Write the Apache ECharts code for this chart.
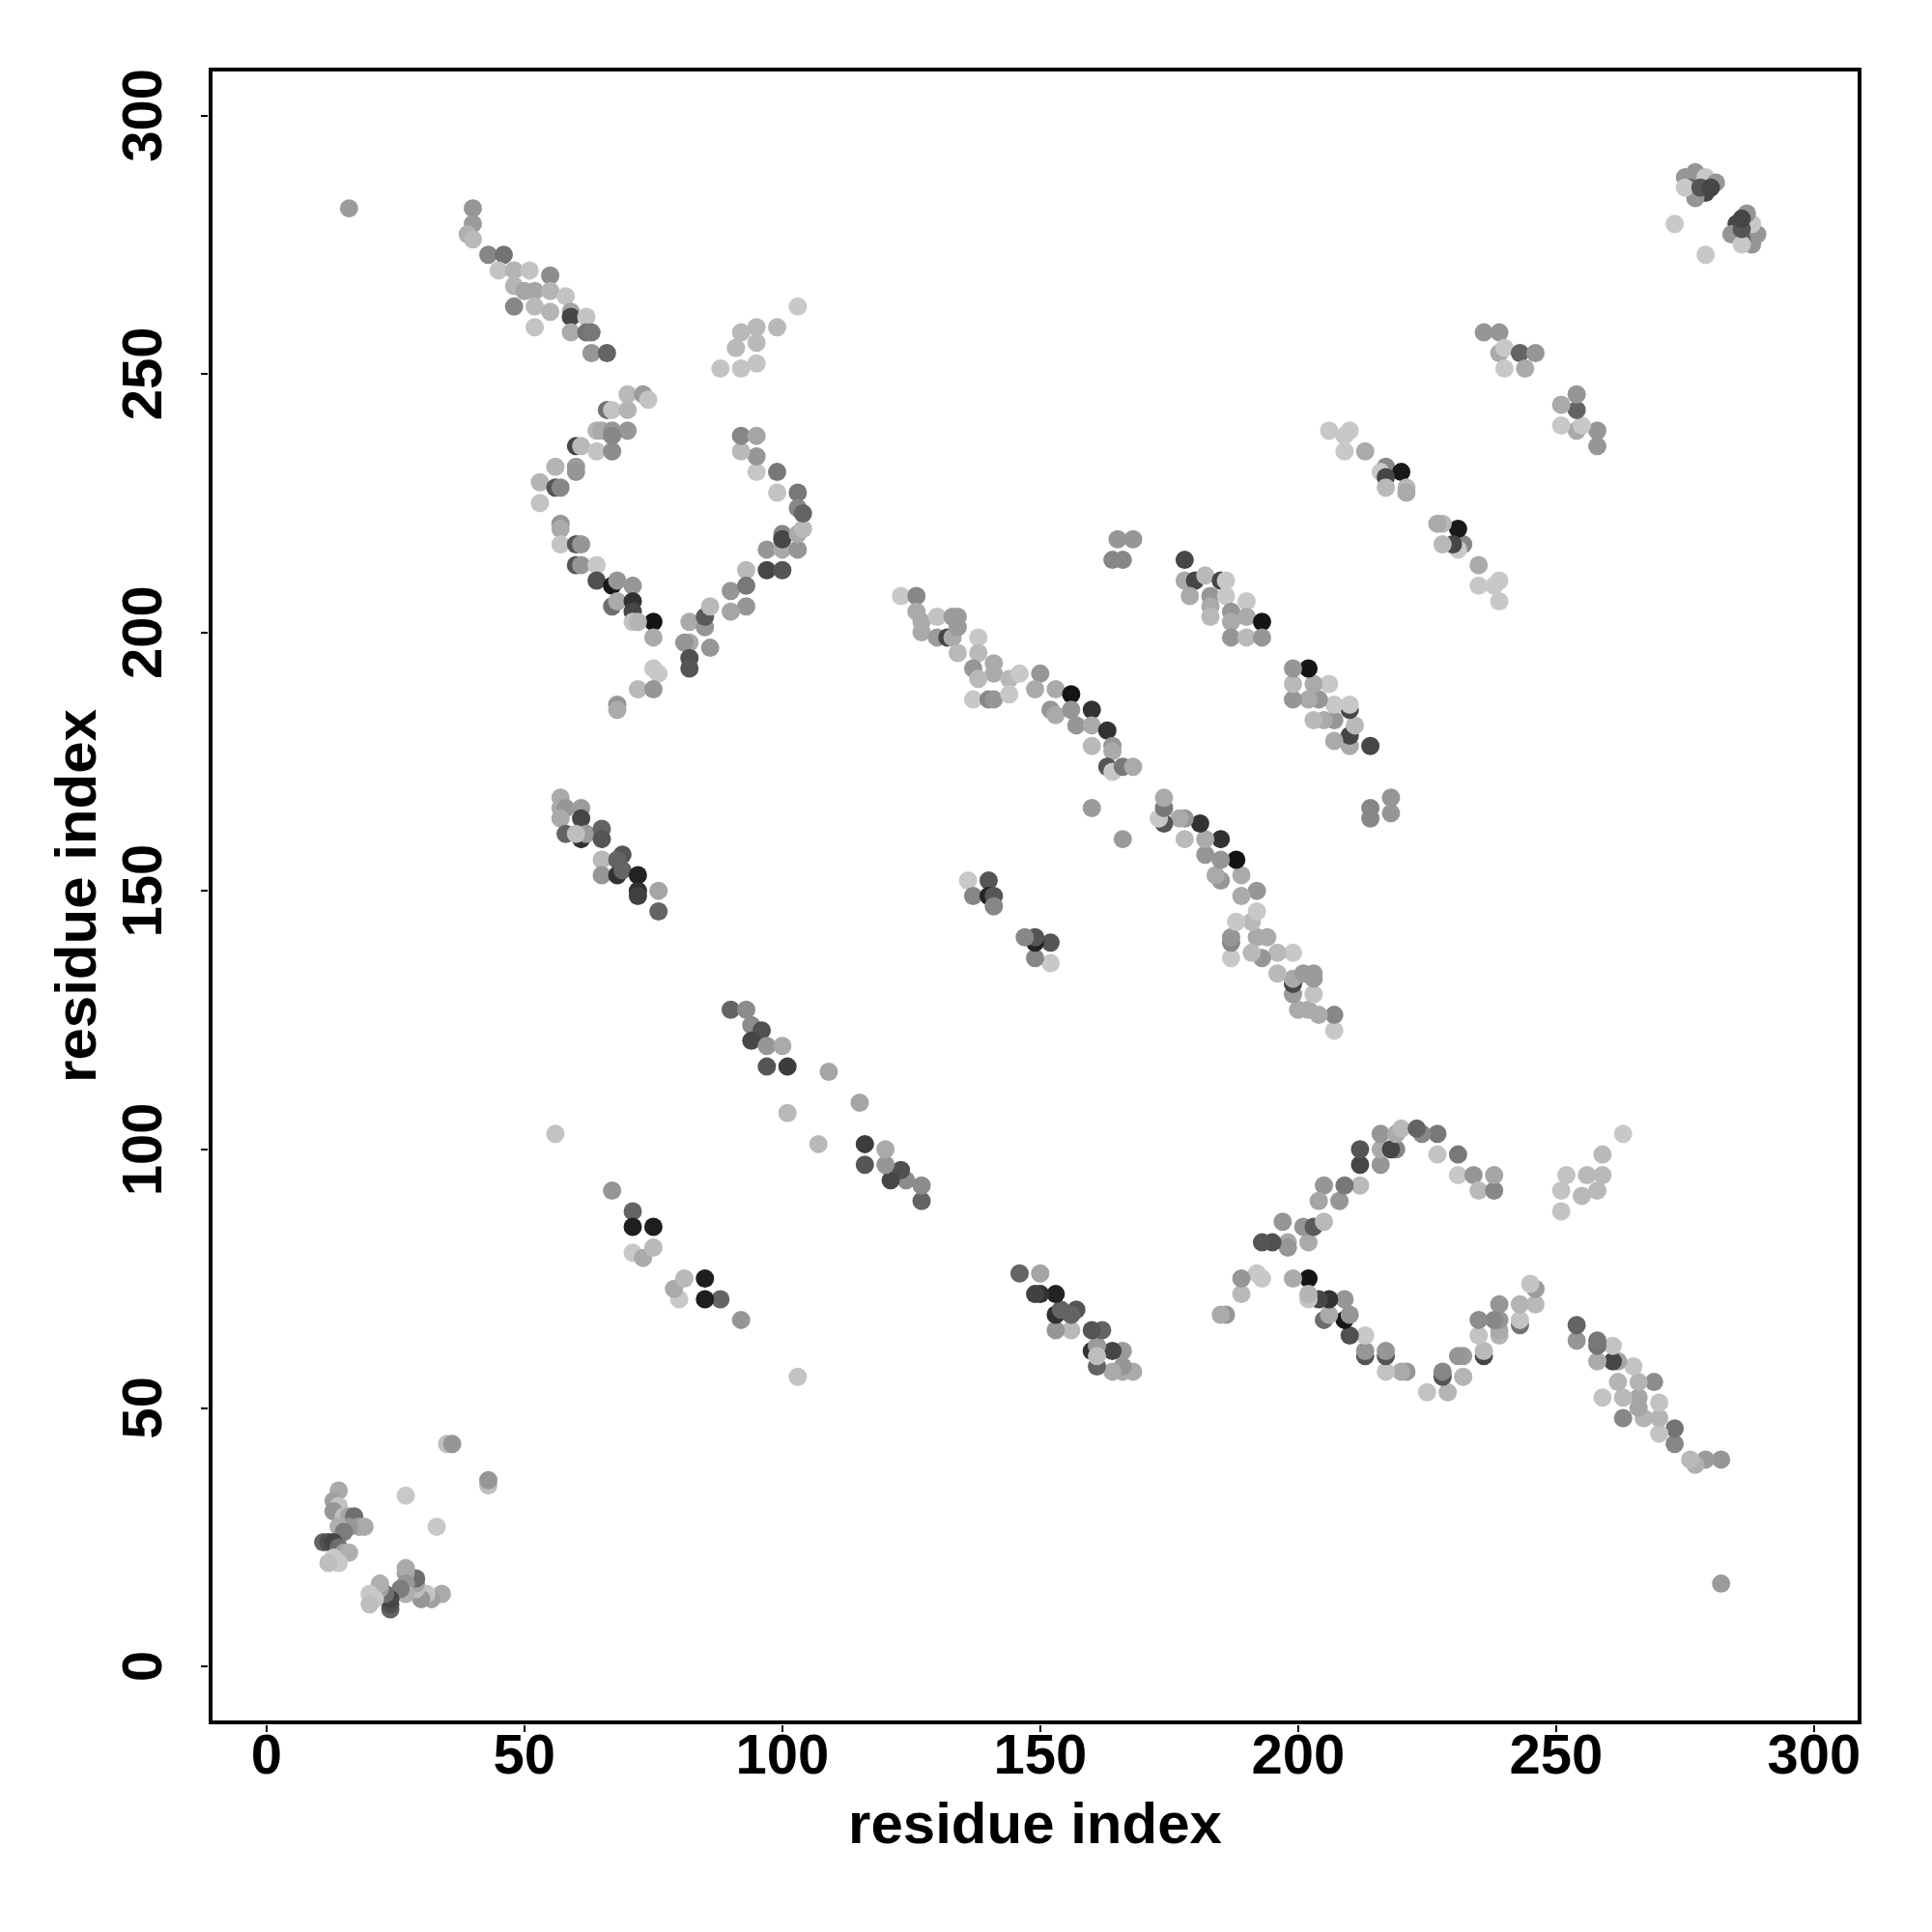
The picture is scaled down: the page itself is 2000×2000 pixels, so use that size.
<!DOCTYPE html>
<html>
<head>
<meta charset="utf-8">
<script src="https://cdn.jsdelivr.net/npm/echarts@6/dist/echarts.min.js"></script>
<style>html,body{margin:0;padding:0;background:#fff}#c{width:2000px;height:2000px}</style>
</head>
<body>
<div id="c"></div>
<script>
// Contact map (symmetric): contacts read from the upper-left half (resJ > resI); mirrored when drawn.
const resI = [14,13,14,13,15,16,17,18,19,16,14,15,11,12,13,14,15,16,13,14,12,
27,35,36,16,
40,40,39,40,43,46,45,48,51,55,48,50,52,55,58,48,52,55,59,59,62,52,59,62,63,63,66,
70,73,74,66,67,70,64,65,67,70,67,60,61,64,67,56,60,60,53,56,57,53,57,57,57,60,61,60,61,64,64,67,68,71,67,68,71,71,75,71,72,75,75,76,72,75,68,68,82,82,81,82,82,85,86,85,86,90,93,97,100,93,93,90,97,100,103,100,100,103,104,99,103,103,104,99,95,95,92,92,95,88,92,95,91,95,92,95,99,103,
57,57,58,61,57,61,58,61,62,60,65,65,65,69,68,65,68,69,72,72,72,76,76,
67,71,71,75,71,73,75,
90,93,94,96,94,97,100,97,101,109,101,
56,
123,126,126,127,130,133,134,127,130,132,133,134,134,138,138,137,141,141,138,137,140,141,144,144,146,150,149,153,156,152,153,156,157,160,160,163,160,164,164,163,164,166,168,160,165,168,164,166,
136,140,137,140,141,141,
178,178,180,182,185,186,179,183,183,186,187,190,190,193,183,187,187,190,193,
206,210,209,209,213,217,216,220,217,217,221,221,236,239,239,240,243,246,240,244,273,275,277,279,281,276,279,277,275,278,280];
const resJ = [34,32,31,30,29,29,29,27,27,27,27,26,24,24,24,23,22,22,21,20,20,
33,43,43,282,
282,279,277,276,273,273,270,270,270,269,267,266,266,266,265,263,263,262,262,261,261,259,258,258,258,254,254,
246,246,245,243,243,243,239,239,239,239,238,236,236,235,235,232,232,231,229,228,228,225,221,220,217,217,217,213,213,213,210,209,210,209,205,206,206,204,202,202,202,199,193,192,189,189,186,185,202,198,198,195,193,201,197,203,205,208,212,212,212,209,205,204,216,216,216,219,218,219,220,227,227,224,223,231,231,234,235,238,238,251,251,252,255,256,258,259,259,263,
168,166,166,166,164,164,161,160,161,161,162,160,156,157,156,153,153,154,153,150,149,150,146,
92,88,85,85,80,79,81,
127,127,124,123,121,120,120,116,116,115,107,
103,
207,207,204,202,203,203,203,200,199,199,199,201,196,199,196,193,194,192,191,187,187,187,191,188,192,192,189,189,188,185,184,185,182,185,182,181,178,178,177,174,173,174,174,166,218,218,214,214,
152,152,149,149,149,147,
214,210,210,211,210,210,207,207,205,207,204,206,203,202,203,202,199,199,199,
239,239,238,235,235,232,231,231,230,228,228,227,258,258,254,255,254,254,251,251,279,288,289,288,287,286,285,284,286,286,286];
// grey level of each contact (0 = black, 255 = white)
const shade = [170,160,195,150,190,165,110,160,170,150,175,125,100,80,70,110,160,175,200,200,190,
200,190,150,155,
150,155,175,185,135,115,195,180,195,140,180,165,165,180,195,135,185,180,165,70,195,195,170,115,120,150,100,
185,155,195,115,195,180,180,170,150,150,135,70,185,195,140,180,155,150,180,85,135,195,150,170,195,85,150,85,150,200,80,25,150,150,110,170,50,70,20,195,180,170,200,200,185,150,150,170,170,170,150,80,85,150,150,90,185,150,185,70,85,120,150,165,150,170,150,135,70,170,185,195,120,135,100,120,200,150,185,135,165,195,195,195,185,185,185,185,185,200,
170,170,150,155,170,70,100,50,155,190,100,85,185,85,100,150,50,100,35,50,65,165,100,
150,100,30,30,200,170,185,
100,140,140,80,70,150,170,85,60,165,185,
195,
200,135,170,170,195,155,155,170,155,70,170,155,185,200,185,150,170,170,185,200,135,150,185,200,200,150,170,170,20,150,170,150,150,50,170,50,185,150,170,85,200,120,170,155,150,150,135,135,
200,85,135,35,85,135,
70,170,70,185,70,200,170,150,170,200,150,200,170,20,185,170,150,185,150,
200,200,200,200,170,135,200,25,70,185,185,170,150,150,170,200,100,150,200,170,200,150,150,200,150,100,70,150,200,85,70];

const tickVals = [0, 50, 100, 150, 200, 250, 300];
const axisTitle = 'residue index';

const points = [];
for (let k = 0; k < resI.length; k++) {
  const g = shade[k];
  const col = 'rgb(' + g + ',' + g + ',' + g + ')';
  points.push({ value: [resI[k], resJ[k]], itemStyle: { color: col } });
  points.push({ value: [resJ[k], resI[k]], itemStyle: { color: col } });
}

const font = '"Liberation Sans", Arial, Helvetica, sans-serif';
const chart = echarts.init(document.getElementById('c'), null, { renderer: 'canvas', width: 2000, height: 2000 });
const axisCommon = {
  type: 'value',
  min: -10.84,
  max: 308.84,
  offset: 3,
  splitLine: { show: false },
  axisLine: { show: false, onZero: false },
  axisTick: { show: true, inside: false, customValues: tickVals, length: 7, lineStyle: { color: '#000', width: 2 } },
  name: axisTitle,
  nameLocation: 'middle',
  nameTextStyle: { fontFamily: font, fontWeight: 'bold', fontSize: 60, color: '#000', align: 'center', verticalAlign: 'middle' }
};
chart.setOption({
  animation: false,
  backgroundColor: '#fff',
  grid: { left: 218, top: 72, width: 1707, height: 1711, show: true, borderColor: '#000', borderWidth: 4, backgroundColor: 'transparent' },
  xAxis: Object.assign({}, axisCommon, {
    nameGap: 105,
    axisLabel: { customValues: tickVals, margin: 34, fontFamily: font, fontWeight: 'bold', fontSize: 58, color: '#000', verticalAlign: 'middle', align: 'center' }
  }),
  yAxis: Object.assign({}, axisCommon, {
    nameGap: 133,
    nameRotate: 90,
    axisLabel: { customValues: tickVals, margin: 64, rotate: 90, fontFamily: font, fontWeight: 'bold', fontSize: 58, color: '#000', verticalAlign: 'middle', align: 'center' }
  }),
  series: [{
    type: 'scatter',
    symbol: 'circle',
    symbolSize: 19,
    data: points,
    itemStyle: { opacity: 1 }
  }]
});
</script>
</body>
</html>
